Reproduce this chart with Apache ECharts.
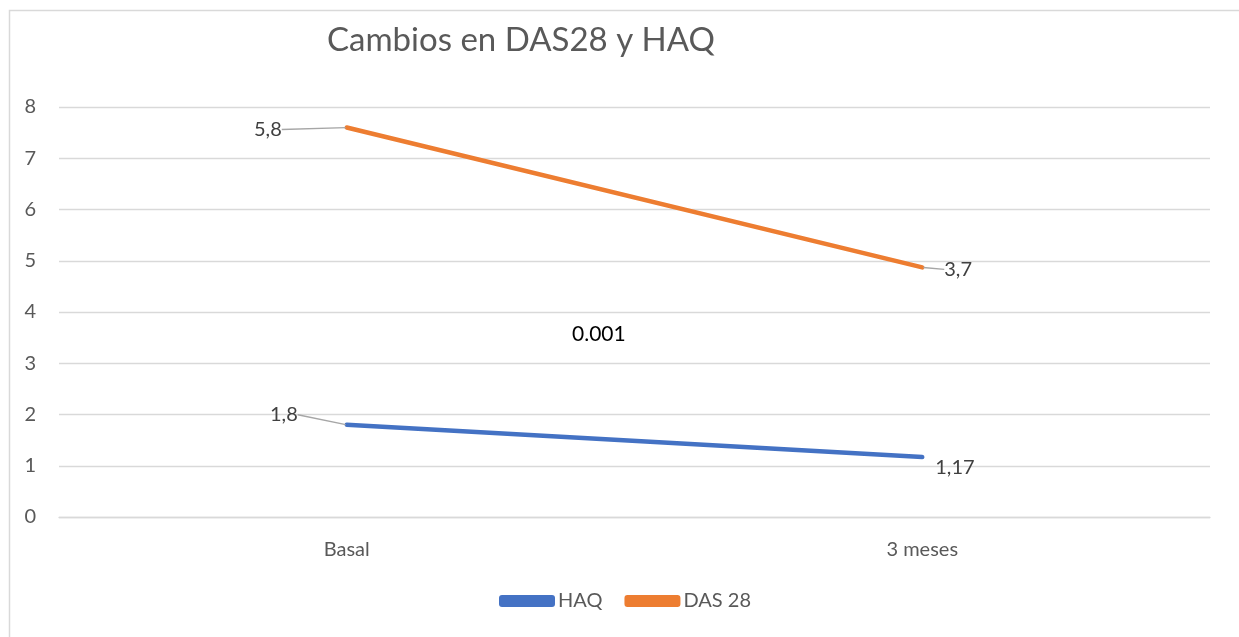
<!DOCTYPE html>
<html><head><meta charset="utf-8">
<script src="https://cdn.jsdelivr.net/npm/echarts@6/dist/echarts.min.js"></script>
<style>html,body{margin:0;padding:0;background:#fff}#c{width:1239px;height:637px}</style>
</head><body><div id="c"></div>
<script>
const categories = ['Basal', '3 meses'];
const haqValues = [1.8, 1.17];
const dasValues = [7.6, 4.87];
const haqLabels = ['1,8', '1,17'];
const dasLabels = ['5,8', '3,7'];
const yTicks = [0, 1, 2, 3, 4, 5, 6, 7, 8];
const annotation = '0.001';

const FONT = 'Lato, "Open Sans", sans-serif';
const GRAY = '#595959';

const chart = echarts.init(document.getElementById('c'));

function mkData(vals, labels, cfgs) {
  return vals.map((v, i) => ({
    value: v,
    label: Object.assign({ formatter: labels[i] }, cfgs[i].label),
    labelLine: { show: cfgs[i].line, lineStyle: { color: '#a6a6a6', width: 1.3 } }
  }));
}

chart.setOption({
  animation: false,
  textStyle: { fontFamily: FONT },
  title: {
    text: 'Cambios en DAS28 y HAQ',
    left: 322, top: 19,
    textStyle: { fontFamily: FONT, fontSize: 33, fontWeight: 'normal', color: GRAY }
  },
  legend: {
    bottom: 21, left: 494,
    itemWidth: 56, itemHeight: 12, itemGap: 22,
    icon: 'roundRect',
    textStyle: { fontFamily: FONT, fontSize: 20, color: GRAY, padding: [0, 0, 0, -2] },
    data: ['HAQ', 'DAS 28']
  },
  grid: { left: 59, right: 29, top: 107, bottom: 120 },
  xAxis: {
    type: 'category', data: categories, boundaryGap: true,
    axisLine: { lineStyle: { color: '#d9d9d9', width: 1.3 } },
    axisTick: { show: false },
    axisLabel: { color: GRAY, fontSize: 20, margin: 23, fontFamily: FONT }
  },
  yAxis: {
    type: 'value', min: yTicks[0], max: yTicks[yTicks.length - 1], interval: 1,
    axisLine: { show: false }, axisTick: { show: false },
    splitLine: { lineStyle: { color: '#d9d9d9', width: 1.3 } },
    axisLabel: { color: GRAY, fontSize: 20, margin: 23, fontFamily: FONT }
  },
  series: [
    {
      name: 'HAQ', type: 'line', data: mkData(haqValues, haqLabels, [
        { label: { position: 'left', distance: 48 }, line: true },
        { label: { position: 'right', distance: 12 }, line: false }
      ]),
      symbol: 'circle', symbolSize: 2, showSymbol: true,
      lineStyle: { color: '#4472C4', width: 4.5, cap: 'round' },
      itemStyle: { color: '#4472C4' },
      label: { show: true, color: '#404040', fontSize: 20, fontFamily: FONT },
      labelLayout: p => p.dataIndex === 0 ? { dy: -10 } : { dy: 11 }
    },
    {
      name: 'DAS 28', type: 'line', data: mkData(dasValues, dasLabels, [
        { label: { position: 'left', distance: 64 }, line: true },
        { label: { position: 'right', distance: 21 }, line: true }
      ]),
      symbol: 'circle', symbolSize: 2, showSymbol: true,
      lineStyle: { color: '#ED7D31', width: 4.5, cap: 'round' },
      itemStyle: { color: '#ED7D31' },
      label: { show: true, color: '#404040', fontSize: 20, fontFamily: FONT },
      labelLayout: p => ({ dy: 2 })
    }
  ],
  graphic: [
    { type: 'rect', left: 7, top: 8, shape: { width: 1231, height: 640 }, style: { fill: 'none', stroke: '#d9d9d9', lineWidth: 1.5 }, z: -1 },
    { type: 'text', left: 572, top: 324, style: { text: annotation, fontSize: 21, fontFamily: FONT, fill: '#000' } }
  ]
});
</script></body></html>
